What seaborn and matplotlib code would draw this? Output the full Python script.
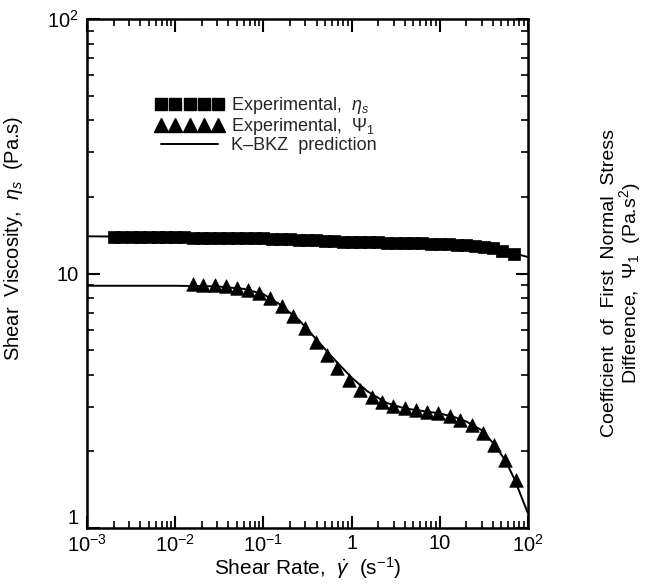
import matplotlib
matplotlib.use("Agg")
import matplotlib.pyplot as plt
from matplotlib.lines import Line2D
from matplotlib.ticker import FixedLocator, FixedFormatter, LogLocator, NullFormatter
import seaborn as sns
import pandas as pd

# ---- data ----
eta_rate = [0.0020, 0.0025, 0.0032, 0.0040, 0.0050, 0.0063, 0.0079, 0.0100, 0.0126, 0.0158,
            0.0200, 0.0251, 0.0316, 0.0398, 0.0501, 0.0631, 0.0794, 0.1000, 0.126, 0.158,
            0.200, 0.251, 0.316, 0.398, 0.501, 0.631, 0.794, 1.00, 1.26, 1.58,
            2.00, 2.51, 3.16, 3.98, 5.01, 6.31, 7.94, 10.0, 12.6, 15.8,
            20.0, 25.1, 31.6, 39.8, 50.1, 70.0]
eta_vals = [13.9, 13.9, 13.9, 13.9, 13.9, 13.9, 13.9, 13.9, 13.9, 13.85,
            13.85, 13.85, 13.8, 13.8, 13.8, 13.8, 13.75, 13.75, 13.7, 13.7,
            13.65, 13.6, 13.55, 13.5, 13.45, 13.4, 13.35, 13.3, 13.3, 13.25,
            13.25, 13.2, 13.2, 13.2, 13.15, 13.15, 13.1, 13.1, 13.05, 13.0,
            12.95, 12.85, 12.7, 12.55, 12.3, 11.9]

psi_rate = [0.0158, 0.0209, 0.0282, 0.0372, 0.0501, 0.0661, 0.0891, 0.120, 0.162, 0.219,
            0.295, 0.398, 0.525, 0.692, 0.933, 1.26, 1.70, 2.24, 2.95, 3.98,
            5.37, 7.08, 9.55, 12.9, 17.0, 22.9, 30.9, 40.7, 55.0, 72.4]
psi_vals = [9.1, 9.05, 9.0, 8.9, 8.8, 8.65, 8.4, 8.0, 7.45, 6.8,
            6.1, 5.4, 4.8, 4.25, 3.8, 3.5, 3.28, 3.14, 3.02, 2.95,
            2.9, 2.86, 2.82, 2.75, 2.65, 2.54, 2.36, 2.12, 1.85, 1.55]

kbkz_eta_rate = [0.001, 0.01, 0.1, 0.3, 1.0, 3.0, 10.0, 20.0, 30.0, 50.0, 70.0, 100.0]
kbkz_eta_vals = [14.0, 13.9, 13.75, 13.55, 13.35, 13.2, 13.1, 12.95, 12.75, 12.35, 12.0, 11.6]

kbkz_psi_rate = [0.001, 0.01, 0.03, 0.06, 0.1, 0.15, 0.25, 0.4, 0.6, 1.0, 1.5, 2.5,
                 4.0, 7.0, 10.0, 15.0, 20.0, 30.0, 40.0, 55.0, 70.0, 100.0]
kbkz_psi_vals = [8.95, 8.95, 8.9, 8.7, 8.3, 7.6, 6.6, 5.5, 4.7, 3.9, 3.45, 3.1,
                 2.95, 2.87, 2.82, 2.72, 2.62, 2.42, 2.16, 1.85, 1.56, 1.14]

x_ticks = [1e-3, 1e-2, 1e-1, 1, 10, 100]
x_tick_labels = [r"$10^{-3}$", r"$10^{-2}$", r"$10^{-1}$", "1", "10", r"$10^{2}$"]
y_ticks = [1, 10, 100]
y_tick_labels = ["1", "10", r"$10^{2}$"]

# ---- style ----
sns.set_theme(style="ticks")
plt.rcParams["font.family"] = ["Liberation Sans", "DejaVu Sans"]
plt.rcParams["mathtext.fontset"] = "custom"
plt.rcParams["mathtext.rm"] = "Liberation Sans"
plt.rcParams["mathtext.it"] = "Liberation Sans:italic"
plt.rcParams["mathtext.bf"] = "Liberation Sans:bold"

fig = plt.figure(figsize=(6.59, 5.86), dpi=100)
ax = fig.add_axes([87 / 659, 58 / 586, 441 / 659, 509 / 586])

df_eta = pd.DataFrame({"rate": eta_rate, "val": eta_vals})
df_psi = pd.DataFrame({"rate": psi_rate, "val": psi_vals})
df_ke = pd.DataFrame({"rate": kbkz_eta_rate, "val": kbkz_eta_vals})
df_kp = pd.DataFrame({"rate": kbkz_psi_rate, "val": kbkz_psi_vals})

sns.lineplot(data=df_ke, x="rate", y="val", color="black", linewidth=1.4, ax=ax,
             sort=True, estimator=None)
sns.lineplot(data=df_kp, x="rate", y="val", color="black", linewidth=1.4, ax=ax,
             sort=True, estimator=None)
sns.scatterplot(data=df_eta, x="rate", y="val", marker="s", s=64, color="black",
                edgecolor="black", linewidth=0.5, ax=ax, zorder=3)
sns.scatterplot(data=df_psi, x="rate", y="val", marker="^", s=95, color="black",
                edgecolor="black", linewidth=0.5, ax=ax, zorder=3)

ax.set_xscale("log")
ax.set_yscale("log")
ax.set_xlim(1e-3, 1e2)
ax.set_ylim(1, 1e2)

ax.xaxis.set_major_locator(FixedLocator(x_ticks))
ax.xaxis.set_major_formatter(FixedFormatter(x_tick_labels))
ax.yaxis.set_major_locator(FixedLocator(y_ticks))
ax.yaxis.set_major_formatter(FixedFormatter(y_tick_labels))
ax.xaxis.set_minor_locator(LogLocator(base=10, subs=range(2, 10), numticks=20))
ax.yaxis.set_minor_locator(LogLocator(base=10, subs=range(2, 10), numticks=20))
ax.xaxis.set_minor_formatter(NullFormatter())
ax.yaxis.set_minor_formatter(NullFormatter())

ax.tick_params(which="both", direction="in", top=True, right=True, color="black")
ax.tick_params(which="major", length=9, width=1.5, labelsize=14.5, labelcolor="black")
ax.tick_params(axis="x", which="major", pad=4)
ax.tick_params(axis="y", which="major", pad=6)
ax.tick_params(which="minor", length=5, width=1.2)
for sp in ax.spines.values():
    sp.set_linewidth(1.8)
    sp.set_color("black")

fig.canvas.draw()
ylabs = ax.get_yticklabels()
ylabs[0].set_va("bottom")

ax.set_xlabel(r"Shear Rate,  $\dot{\gamma}$  (s$^{-1}$)", fontsize=15, color="black", labelpad=0)
ax.set_ylabel(r"Shear  Viscosity,  $\eta_s$  (Pa.s)", fontsize=14.5, color="black")
ax.yaxis.set_label_coords(-0.14, 0.57)

fig.text(622 / 659, 1 - 283 / 586,
         "Coefficient  of  First  Normal  Stress\n"
         r"Difference,  $\Psi_1$  (Pa.s$^2$)",
         rotation=90, ha="center", va="center", fontsize=14, color="black",
         linespacing=0.92)

handles = [
    Line2D([0], [0], marker="s", linestyle="none", color="black", markersize=9),
    Line2D([0], [0], marker="^", linestyle="none", color="black", markersize=10),
    Line2D([0], [0], linestyle="-", color="black", linewidth=1.4),
]
labels = [r"Experimental,  $\eta_s$", r"Experimental,  $\Psi_1$", "K\u2013BKZ  prediction"]
fig.legend(handles, labels, loc="upper left", bbox_to_anchor=(148 / 659, 1 - 88 / 586),
           numpoints=5, frameon=False, fontsize=13, handlelength=3.8,
           handletextpad=0.4, labelspacing=0.0, borderaxespad=0, markerscale=1.0)

fig.savefig("out.png", dpi=100)
